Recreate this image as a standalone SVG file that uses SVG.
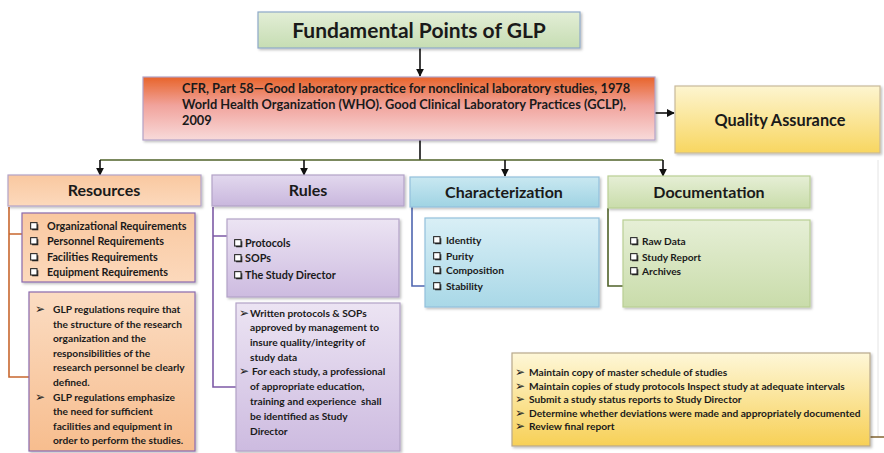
<svg xmlns="http://www.w3.org/2000/svg" width="884" height="453" viewBox="0 0 884 453">
  <style>
    .t { font-family: Lato, "Liberation Sans", sans-serif; font-weight: bold; fill: #1a1a1a; }
    .title { font-size: 21px; }
    .head { font-size: 16px; }
    .small { font-size: 10.2px; }
    .big { font-size: 10.8px; }
    .bul { font-family: "DejaVu Sans", sans-serif; font-size: 12px; fill: #222; }
    .box { stroke-width: 1.2; filter: url(#sh); }
    .link { fill: none; stroke-width: 1.6; }
    .arr { fill: none; stroke: #111; stroke-width: 1.6; marker-end: url(#ah); }
  </style>
  <defs>
    <filter id="sh" x="-5%" y="-10%" width="112%" height="125%">
      <feDropShadow dx="1.5" dy="1.5" stdDeviation="1.2" flood-color="#000" flood-opacity="0.25"/>
    </filter>
    <marker id="ah" viewBox="0 0 10 10" refX="9" refY="5" markerWidth="5" markerHeight="5" orient="auto">
      <path d="M0,0 L10,5 L0,10 z" fill="#111"/>
    </marker>
    <symbol id="cb" viewBox="0 0 8 8" width="8.5" height="8.5">
      <rect x="0.6" y="0.6" width="6" height="6" fill="#fff" stroke="#222" stroke-width="1"/>
      <path d="M2,7.4 H7.4 V2" fill="none" stroke="#222" stroke-width="1.4"/>
    </symbol>
    <linearGradient id="gTitle" x1="0" y1="0" x2="0" y2="1">
      <stop offset="0" stop-color="#e3eed6"/><stop offset="1" stop-color="#c6ddb3"/>
    </linearGradient>
    <linearGradient id="gCfr" x1="0" y1="0" x2="0" y2="1">
      <stop offset="0" stop-color="#e8642a"/><stop offset="0.45" stop-color="#f1a39c"/><stop offset="1" stop-color="#f8dada"/>
    </linearGradient>
    <linearGradient id="gQa" x1="0" y1="0" x2="0" y2="1">
      <stop offset="0" stop-color="#fdf5d0"/><stop offset="1" stop-color="#f8d660"/>
    </linearGradient>
    <linearGradient id="gRes" x1="0" y1="0" x2="0" y2="1">
      <stop offset="0" stop-color="#f9c8a0"/><stop offset="1" stop-color="#fcd9bc"/>
    </linearGradient>
    <linearGradient id="gResD" x1="0" y1="0" x2="0" y2="1">
      <stop offset="0" stop-color="#fbdcc2"/><stop offset="1" stop-color="#f7bd8e"/>
    </linearGradient>
    <linearGradient id="gRul" x1="0" y1="0" x2="0" y2="1">
      <stop offset="0" stop-color="#e2d8ee"/><stop offset="1" stop-color="#c9b7dd"/>
    </linearGradient>
    <linearGradient id="gRulD" x1="0" y1="0" x2="0" y2="1">
      <stop offset="0" stop-color="#ece4f3"/><stop offset="1" stop-color="#cdbbe0"/>
    </linearGradient>
    <linearGradient id="gCha" x1="0" y1="0" x2="0" y2="1">
      <stop offset="0" stop-color="#c9e8f1"/><stop offset="1" stop-color="#9fd3e3"/>
    </linearGradient>
    <linearGradient id="gChaD" x1="0" y1="0" x2="0" y2="1">
      <stop offset="0" stop-color="#d9eff6"/><stop offset="1" stop-color="#a9d8e7"/>
    </linearGradient>
    <linearGradient id="gDoc" x1="0" y1="0" x2="0" y2="1">
      <stop offset="0" stop-color="#e6efd6"/><stop offset="1" stop-color="#c9dcaa"/>
    </linearGradient>
    <linearGradient id="gQaD" x1="0" y1="0" x2="0" y2="1">
      <stop offset="0" stop-color="#fef7d8"/><stop offset="1" stop-color="#f7d056"/>
    </linearGradient>
  </defs>

  <rect width="884" height="453" fill="#fff"/>

  <!-- connectors -->
  <g id="connectors">
    <path class="arr" d="M420,48 V76"/>
    <path class="arr" d="M655,113 H674"/>
    <path class="link" stroke="#111" d="M420,140 V160"/>
    <path class="link" stroke="#4f6228" stroke-width="2" d="M100,160 H663"/>
    <path class="arr" d="M100,160 V175"/>
    <path class="arr" d="M304,160 V175"/>
    <path class="arr" d="M505,160 V176"/>
    <path class="arr" d="M663,160 V176"/>
    <path class="link" stroke="#c8672e" d="M9,207 V377 H30 M9,234 H22"/>
    <path class="link" stroke="#7d5aa6" d="M213,207 V387 H236 M213,236 H227"/>
    <path class="link" stroke="#4f66b0" d="M412,207 V286 H425"/>
    <path class="link" stroke="#4f6228" d="M608,208 V286 H623"/>
    <path fill="none" stroke="#e4e4e4" stroke-width="1" d="M878,160 V437"/>
    <path class="link" stroke="#8a6d3b" d="M870,437 H884"/>
  </g>

  <g id="title">
    <rect class="box" x="258" y="12" width="322" height="36" fill="url(#gTitle)" stroke="#8ea9c8"/>
    <text class="t title" x="419" y="37.5" text-anchor="middle">Fundamental Points of GLP</text>
  </g>

  <g id="cfr">
    <rect class="box" x="143" y="77" width="512" height="63" fill="url(#gCfr)" stroke="#b3a2c7"/>
    <text class="t" font-size="12.8" x="182" y="92.5">CFR, Part 58—Good laboratory practice for nonclinical laboratory studies, 1978</text>
    <text class="t" font-size="12.8" x="182" y="108.5">World Health Organization (WHO). Good Clinical Laboratory Practices (GCLP),</text>
    <text class="t" font-size="12.8" x="182" y="124.5">2009</text>
  </g>

  <g id="quality-assurance">
    <rect class="box" x="675" y="86" width="205" height="67" fill="url(#gQa)" stroke="#c9b99a"/>
    <text class="t" font-size="16.3" x="780" y="126" text-anchor="middle">Quality Assurance</text>
  </g>

  <g id="resources">
    <rect class="box" x="8" y="175" width="193" height="31" fill="url(#gRes)" stroke="#b3a2c7"/>
    <text class="t head" x="104" y="196" text-anchor="middle">Resources</text>
  </g>
  <g id="resources-list">
    <rect class="box" x="22" y="213" width="173" height="69" fill="url(#gRes)" stroke="#8a6aae"/>
    <use href="#cb" x="30" y="222"/><text class="t big" x="47" y="230">Organizational Requirements</text>
    <use href="#cb" x="30" y="237"/><text class="t big" x="47" y="245">Personnel Requirements</text>
    <use href="#cb" x="30" y="253"/><text class="t big" x="47" y="261">Facilities Requirements</text>
    <use href="#cb" x="30" y="268"/><text class="t big" x="47" y="276">Equipment Requirements</text>
  </g>
  <g id="resources-notes">
    <rect class="box" x="29" y="292" width="166" height="159" fill="url(#gResD)" stroke="#8a6aae"/>
    <text class="bul" x="35" y="313">➢</text>
    <text class="t small" x="53" y="312.5">GLP regulations require that</text>
    <text class="t small" x="53" y="327.5">the structure of the research</text>
    <text class="t small" x="53" y="341.5">organization and the</text>
    <text class="t small" x="53" y="356.5">responsibilities of the</text>
    <text class="t small" x="53" y="370.5">research personnel be clearly</text>
    <text class="t small" x="53" y="385.5">defined.</text>
    <text class="bul" x="35" y="401">➢</text>
    <text class="t small" x="53" y="400.5">GLP regulations emphasize</text>
    <text class="t small" x="53" y="414.5">the need for sufficient</text>
    <text class="t small" x="53" y="429.5">facilities and equipment in</text>
    <text class="t small" x="53" y="443.5">order to perform the studies.</text>
  </g>

  <g id="rules">
    <rect class="box" x="212" y="175" width="192" height="31" fill="url(#gRul)" stroke="#b3a2c7"/>
    <text class="t head" x="308" y="196" text-anchor="middle">Rules</text>
  </g>
  <g id="rules-list">
    <rect class="box" x="227" y="219" width="172" height="78" fill="url(#gRulD)" stroke="#b3a2c7"/>
    <use href="#cb" x="234" y="239"/><text class="t big" x="245" y="247">Protocols</text>
    <use href="#cb" x="234" y="254"/><text class="t big" x="245" y="262">SOPs</text>
    <use href="#cb" x="234" y="271"/><text class="t big" x="245" y="279">The Study Director</text>
  </g>
  <g id="rules-notes">
    <rect class="box" x="236" y="303" width="164" height="148" fill="url(#gRulD)" stroke="#b3a2c7"/>
    <text class="bul" x="239" y="317">➢</text>
    <text class="t small" x="250" y="316.5">Written protocols &amp; SOPs</text>
    <text class="t small" x="250" y="330.5">approved by management to</text>
    <text class="t small" x="250" y="345.5">insure quality/integrity of</text>
    <text class="t small" x="250" y="360.5">study data</text>
    <text class="bul" x="239" y="375">➢</text>
    <text class="t small" x="252" y="374.5">For each study, a professional</text>
    <text class="t small" x="250" y="389.5">of appropriate education,</text>
    <text class="t small" x="250" y="404.5" style="white-space:pre">training and experience  shall</text>
    <text class="t small" x="250" y="419.5">be identified as Study</text>
    <text class="t small" x="250" y="434.5">Director</text>
  </g>

  <g id="characterization">
    <rect class="box" x="410" y="177" width="189" height="30" fill="url(#gCha)" stroke="#93c0dc"/>
    <text class="t head" x="504" y="198" text-anchor="middle">Characterization</text>
  </g>
  <g id="characterization-list">
    <rect class="box" x="425" y="218" width="174" height="89" fill="url(#gChaD)" stroke="#93c0dc"/>
    <use href="#cb" x="433" y="236"/><text class="t small" x="446" y="244">Identity</text>
    <use href="#cb" x="433" y="252"/><text class="t small" x="446" y="260">Purity</text>
    <use href="#cb" x="433" y="266"/><text class="t small" x="446" y="274">Composition</text>
    <use href="#cb" x="433" y="282"/><text class="t small" x="446" y="290">Stability</text>
  </g>

  <g id="documentation">
    <rect class="box" x="608" y="176" width="202" height="32" fill="url(#gDoc)" stroke="#b9cf94"/>
    <text class="t head" x="709" y="198" text-anchor="middle">Documentation</text>
  </g>
  <g id="documentation-list">
    <rect class="box" x="623" y="220" width="187" height="87" fill="url(#gDoc)" stroke="#b9cf94"/>
    <use href="#cb" x="630" y="237"/><text class="t small" x="642" y="245">Raw Data</text>
    <use href="#cb" x="630" y="253"/><text class="t small" x="642" y="261">Study Report</text>
    <use href="#cb" x="630" y="267"/><text class="t small" x="642" y="275">Archives</text>
  </g>

  <g id="qa-duties">
    <rect class="box" x="512" y="353" width="358" height="93" fill="url(#gQaD)" stroke="#b8a98c"/>
    <text class="bul" x="515" y="376">➢</text>
    <text class="t small" x="529" y="375.5">Maintain copy of master schedule of studies</text>
    <text class="bul" x="515" y="390">➢</text>
    <text class="t small" x="529" y="389.5">Maintain copies of study protocols Inspect study at adequate intervals</text>
    <text class="bul" x="515" y="403">➢</text>
    <text class="t small" x="529" y="402.5">Submit a study status reports to Study Director</text>
    <text class="bul" x="515" y="417">➢</text>
    <text class="t small" x="529" y="416.5">Determine whether deviations were made and appropriately documented</text>
    <text class="bul" x="515" y="430">➢</text>
    <text class="t small" x="529" y="429.5">Review final report</text>
  </g>
</svg>
